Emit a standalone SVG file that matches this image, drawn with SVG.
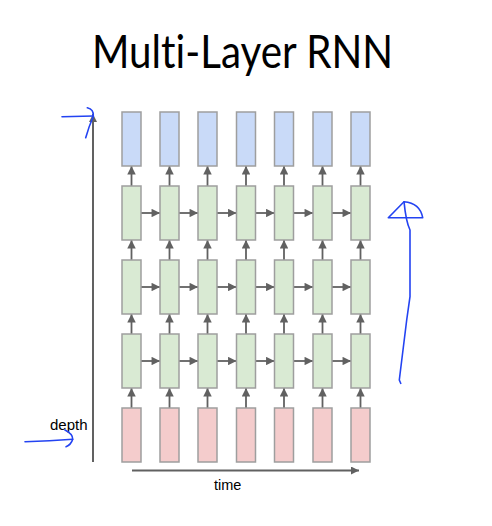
<svg xmlns="http://www.w3.org/2000/svg" width="492" height="526" viewBox="0 0 492 526">
<defs>
<style>
.b{fill:#c9daf8;stroke:#9e9e9e;stroke-width:1.5}
.g{fill:#d9ead3;stroke:#9e9e9e;stroke-width:1.5}
.p{fill:#f4cccc;stroke:#9e9e9e;stroke-width:1.5}
.c{stroke:#616161;stroke-width:1.8;fill:none;marker-end:url(#ah)}
.ax{stroke:#616161;stroke-width:2;fill:none;marker-end:url(#ab)}
.pen{stroke:#2343f2;stroke-width:1.6;fill:none;stroke-linecap:round;stroke-linejoin:round}
text{font-family:"Liberation Sans",Arial,sans-serif;fill:#000}
.title{font-family:Lato,"Liberation Sans",sans-serif;font-variant-ligatures:none;font-feature-settings:"liga" 0}
</style>
<marker id="ah" viewBox="0 0 10 10" refX="10" refY="5" markerWidth="5" markerHeight="4.7" orient="auto" markerUnits="strokeWidth"><path d="M0,0L10,5L0,10z" fill="#616161"/></marker>
<marker id="ab" viewBox="0 0 10 10" refX="10" refY="5" markerWidth="4.6" markerHeight="4" orient="auto" markerUnits="strokeWidth"><path d="M0,0L10,5L0,10z" fill="#616161"/></marker>
</defs>
<rect width="492" height="526" fill="#fff"/>
<text class="title" x="92" y="68" font-size="46" textLength="301" lengthAdjust="spacingAndGlyphs">Multi-Layer RNN</text>
<g id="connectors">
<line class="ax" x1="93" y1="462" x2="93" y2="114"/>
<line class="ax" x1="132" y1="470.5" x2="359" y2="470.5"/>
<g id="vert">
<line class="c" x1="131.5" y1="186" x2="131.5" y2="166"/><line class="c" x1="169.5" y1="186" x2="169.5" y2="166"/><line class="c" x1="207.5" y1="186" x2="207.5" y2="166"/><line class="c" x1="246" y1="186" x2="246" y2="166"/><line class="c" x1="284" y1="186" x2="284" y2="166"/><line class="c" x1="322.5" y1="186" x2="322.5" y2="166"/><line class="c" x1="360.5" y1="186" x2="360.5" y2="166"/>
<line class="c" x1="131.5" y1="260" x2="131.5" y2="240"/><line class="c" x1="169.5" y1="260" x2="169.5" y2="240"/><line class="c" x1="207.5" y1="260" x2="207.5" y2="240"/><line class="c" x1="246" y1="260" x2="246" y2="240"/><line class="c" x1="284" y1="260" x2="284" y2="240"/><line class="c" x1="322.5" y1="260" x2="322.5" y2="240"/><line class="c" x1="360.5" y1="260" x2="360.5" y2="240"/>
<line class="c" x1="131.5" y1="334" x2="131.5" y2="314"/><line class="c" x1="169.5" y1="334" x2="169.5" y2="314"/><line class="c" x1="207.5" y1="334" x2="207.5" y2="314"/><line class="c" x1="246" y1="334" x2="246" y2="314"/><line class="c" x1="284" y1="334" x2="284" y2="314"/><line class="c" x1="322.5" y1="334" x2="322.5" y2="314"/><line class="c" x1="360.5" y1="334" x2="360.5" y2="314"/>
<line class="c" x1="131.5" y1="408" x2="131.5" y2="388"/><line class="c" x1="169.5" y1="408" x2="169.5" y2="388"/><line class="c" x1="207.5" y1="408" x2="207.5" y2="388"/><line class="c" x1="246" y1="408" x2="246" y2="388"/><line class="c" x1="284" y1="408" x2="284" y2="388"/><line class="c" x1="322.5" y1="408" x2="322.5" y2="388"/><line class="c" x1="360.5" y1="408" x2="360.5" y2="388"/>
</g>
<g id="horiz">
<line class="c" x1="141" y1="213" x2="160" y2="213"/><line class="c" x1="179" y1="213" x2="198" y2="213"/><line class="c" x1="217" y1="213" x2="236.5" y2="213"/><line class="c" x1="255.5" y1="213" x2="274.5" y2="213"/><line class="c" x1="293.5" y1="213" x2="313" y2="213"/><line class="c" x1="332" y1="213" x2="351" y2="213"/>
<line class="c" x1="141" y1="287" x2="160" y2="287"/><line class="c" x1="179" y1="287" x2="198" y2="287"/><line class="c" x1="217" y1="287" x2="236.5" y2="287"/><line class="c" x1="255.5" y1="287" x2="274.5" y2="287"/><line class="c" x1="293.5" y1="287" x2="313" y2="287"/><line class="c" x1="332" y1="287" x2="351" y2="287"/>
<line class="c" x1="141" y1="361" x2="160" y2="361"/><line class="c" x1="179" y1="361" x2="198" y2="361"/><line class="c" x1="217" y1="361" x2="236.5" y2="361"/><line class="c" x1="255.5" y1="361" x2="274.5" y2="361"/><line class="c" x1="293.5" y1="361" x2="313" y2="361"/><line class="c" x1="332" y1="361" x2="351" y2="361"/>
</g>
</g>
<g id="nodes">
<g id="out"><rect class="b" x="122" y="112" width="19" height="54"/><rect class="b" x="160" y="112" width="19" height="54"/><rect class="b" x="198" y="112" width="19" height="54"/><rect class="b" x="236.5" y="112" width="19" height="54"/><rect class="b" x="274.5" y="112" width="19" height="54"/><rect class="b" x="313" y="112" width="19" height="54"/><rect class="b" x="351" y="112" width="19" height="54"/></g>
<g id="h3"><rect class="g" x="122" y="186" width="19" height="54"/><rect class="g" x="160" y="186" width="19" height="54"/><rect class="g" x="198" y="186" width="19" height="54"/><rect class="g" x="236.5" y="186" width="19" height="54"/><rect class="g" x="274.5" y="186" width="19" height="54"/><rect class="g" x="313" y="186" width="19" height="54"/><rect class="g" x="351" y="186" width="19" height="54"/></g>
<g id="h2"><rect class="g" x="122" y="260" width="19" height="54"/><rect class="g" x="160" y="260" width="19" height="54"/><rect class="g" x="198" y="260" width="19" height="54"/><rect class="g" x="236.5" y="260" width="19" height="54"/><rect class="g" x="274.5" y="260" width="19" height="54"/><rect class="g" x="313" y="260" width="19" height="54"/><rect class="g" x="351" y="260" width="19" height="54"/></g>
<g id="h1"><rect class="g" x="122" y="334" width="19" height="54"/><rect class="g" x="160" y="334" width="19" height="54"/><rect class="g" x="198" y="334" width="19" height="54"/><rect class="g" x="236.5" y="334" width="19" height="54"/><rect class="g" x="274.5" y="334" width="19" height="54"/><rect class="g" x="313" y="334" width="19" height="54"/><rect class="g" x="351" y="334" width="19" height="54"/></g>
<g id="in"><rect class="p" x="122" y="408" width="19" height="54"/><rect class="p" x="160" y="408" width="19" height="54"/><rect class="p" x="198" y="408" width="19" height="54"/><rect class="p" x="236.5" y="408" width="19" height="54"/><rect class="p" x="274.5" y="408" width="19" height="54"/><rect class="p" x="313" y="408" width="19" height="54"/><rect class="p" x="351" y="408" width="19" height="54"/></g>
</g>
<text x="50" y="430" font-size="15">depth</text>
<text x="214" y="489.5" font-size="14.5">time</text>
<g id="ink">
<path class="pen" d="M62,116.7 L93.3,116"/>
<path class="pen" d="M85.7,137.7 Q89,126 93.3,116.5 Q94,109 87.3,107.7"/>
<path class="pen" d="M25,441.7 Q50,441 72.7,439.3"/>
<path class="pen" d="M65,430 Q73,434 72.7,439.3 Q71,445 66,446.7"/>
<path class="pen" d="M388.3,217.7 L404,201.7 Q420,203 422.7,217.7 L388.3,217.7"/>
<path class="pen" d="M404,201.7 Q406,222 410,230 L410,296.7 L406.7,320 L399.3,380 L400.7,383.3"/>
</g>
</svg>
